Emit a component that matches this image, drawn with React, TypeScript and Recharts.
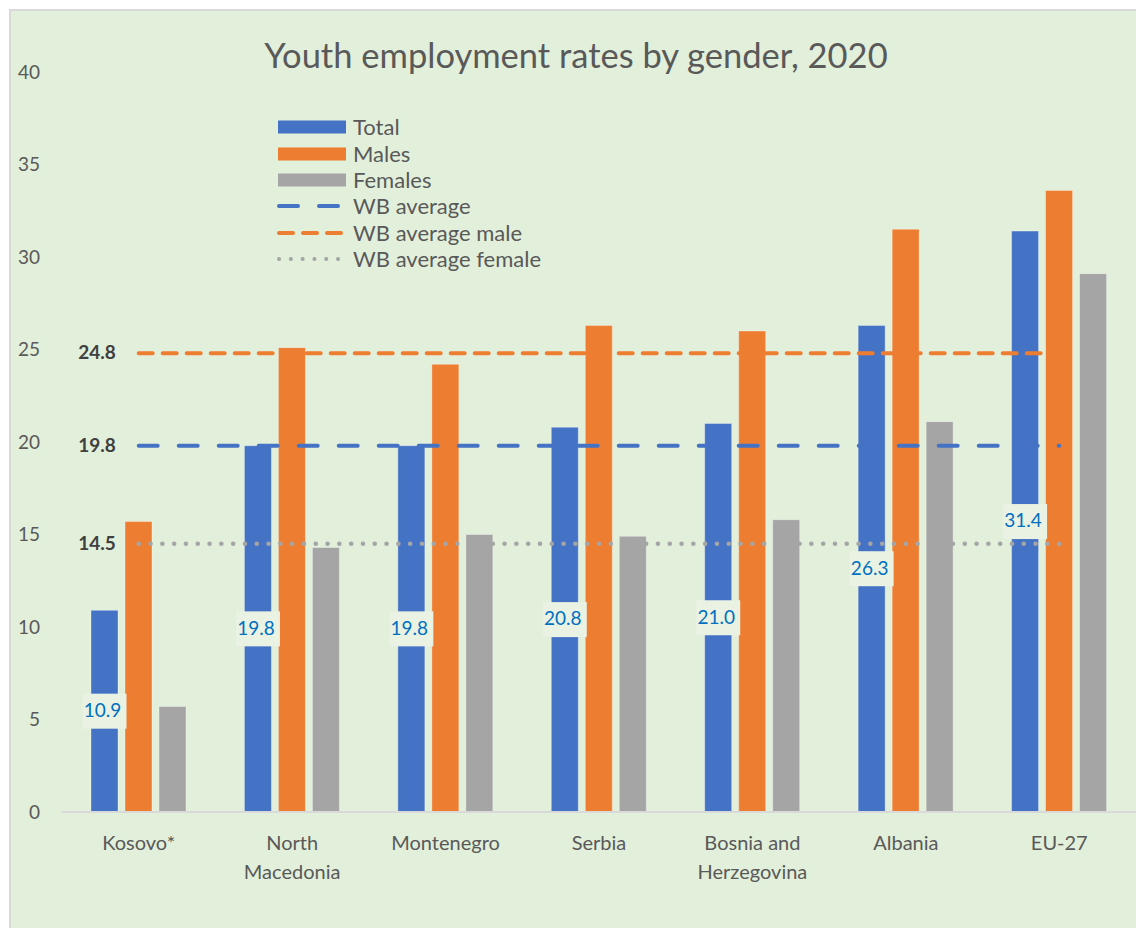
import React from "react";
import { ComposedChart, Bar, Line, XAxis, YAxis, LabelList, Legend } from "recharts";

const CATEGORIES = ["Kosovo*", "North Macedonia", "Montenegro", "Serbia", "Bosnia and Herzegovina", "Albania", "EU-27"];
const TOTAL = [10.9, 19.8, 19.8, 20.8, 21.0, 26.3, 31.4];
const MALES = [15.7, 25.1, 24.2, 26.3, 26.0, 31.5, 33.6];
const FEMALES = [5.7, 14.3, 15.0, 14.9, 15.8, 21.1, 29.1];
const WB_AVERAGE = [19.8, 19.8, 19.8, 19.8, 19.8, 19.8, 19.8];
const WB_AVERAGE_MALE = [24.8, 24.8, 24.8, 24.8, 24.8, 24.8, 24.8];
const WB_AVERAGE_FEMALE = [14.5, 14.5, 14.5, 14.5, 14.5, 14.5, 14.5];
const Y_TICKS = [0, 5, 10, 15, 20, 25, 30, 35, 40];

const FONT = "Lato, 'Open Sans', sans-serif";
const BLUE = "#4472c4";
const ORANGE = "#ed7d31";
const GREY = "#a5a5a5";
const TEXT = "#595959";

const data = CATEGORIES.map((name, i) => ({
  name,
  total: TOTAL[i],
  males: MALES[i],
  females: FEMALES[i],
  wbAvg: WB_AVERAGE[i],
  wbMale: WB_AVERAGE_MALE[i],
  wbFemale: WB_AVERAGE_FEMALE[i],
}));

// greedy word wrap for the category labels
function wrap(text: string, maxChars = 11): string[] {
  const lines: string[] = [];
  let cur = "";
  for (const w of text.split(" ")) {
    const next = cur ? cur + " " + w : w;
    if (next.length > maxChars && cur) {
      lines.push(cur);
      cur = w;
    } else {
      cur = next;
    }
  }
  if (cur) lines.push(cur);
  return lines;
}

const CategoryTick = ({ x, y, payload }: any) => {
  const lines = wrap(String(payload.value));
  return (
    <text x={x} y={y + 30} textAnchor="middle" fill={TEXT} fontSize={20} fontFamily={FONT}>
      {lines.map((l, i) => (
        <tspan key={i} x={x} dy={i === 0 ? 0 : 29}>
          {l}
        </tspan>
      ))}
    </text>
  );
};

const TotalLabel = (props: any) => {
  const { x, y, width, height, value } = props;
  const cx = x + width / 2;
  const cy = y + height / 2;
  return (
    <g>
      <rect x={cx - 22} y={cy - 17.5} width={44} height={35} fill="#e9f2e3" />
      <text x={cx - 2} y={cy + 1} textAnchor="middle" dominantBaseline="middle" fill="#0070c0" fontSize={19} fontFamily={FONT}>
        {Number(value).toFixed(1)}
      </text>
    </g>
  );
};

const AvgLabel = (props: any) => {
  const { x, y, value, index } = props;
  if (index !== 0) return null;
  return (
    <text x={x - 23} y={y + 1} textAnchor="end" dominantBaseline="middle" fill="#404040" fontWeight="bold" fontSize={19} fontFamily={FONT}>
      {Number(value).toFixed(1)}
    </text>
  );
};

const LEGEND_ITEMS = [
  { label: "Total", color: BLUE, kind: "bar" },
  { label: "Males", color: ORANGE, kind: "bar" },
  { label: "Females", color: GREY, kind: "bar" },
  { label: "WB average", color: BLUE, kind: "line", dash: "19 21" },
  { label: "WB average male", color: ORANGE, kind: "line", dash: "14 10" },
  { label: "WB average female", color: GREY, kind: "line", dash: "0.1 11.7" },
];

const LegendContent = () => (
  <div style={{ fontFamily: FONT, fontSize: 22, color: TEXT }}>
    {LEGEND_ITEMS.map((it) => (
      <div key={it.label} style={{ display: "flex", alignItems: "center", height: 26.4 }}>
        <svg width={76} height={14} style={{ flex: "none" }}>
          {it.kind === "bar" ? (
            <rect x={1} y={0.5} width={68} height={13} fill={it.color} />
          ) : (
            <line x1={2} x2={68} y1={7} y2={7} stroke={it.color} strokeWidth={4} strokeLinecap="round" strokeDasharray={it.dash} />
          )}
        </svg>
        <span style={{ lineHeight: 1 }}>{it.label}</span>
      </div>
    ))}
  </div>
);

export default function App() {
  return (
    <div style={{ position: "absolute", left: 0, top: 0, width: 1136, height: 928, background: "#fff", overflow: "hidden" }}>
      <div
        style={{
          position: "absolute",
          left: 9,
          top: 9,
          width: 1127,
          height: 919,
          background: "#e2efda",
          borderLeft: "2px solid #d9d9d9",
          borderTop: "2px solid #d9d9d9",
          boxSizing: "border-box",
        }}
      />
      <div
        style={{
          position: "absolute",
          left: 0,
          top: 35,
          width: 1152,
          textAlign: "center",
          fontFamily: FONT,
          fontSize: 34.5,
          color: TEXT,
          lineHeight: "40px",
        }}
      >
        Youth employment rates by gender, 2020
      </div>
      <div style={{ position: "absolute", left: 0, top: 0 }}>
        <ComposedChart
          width={1136}
          height={928}
          data={data}
          margin={{ top: 72, right: 0, bottom: 56, left: 12 }}
          barGap={7}
          barCategoryGap={29}
        >
          <XAxis
            dataKey="name"
            height={60}
            tickLine={false}
            axisLine={{ stroke: "#d9d9d9", strokeWidth: 2 }}
            tick={<CategoryTick />}
            interval={0}
          />
          <YAxis
            width={50}
            domain={[0, 40]}
            ticks={Y_TICKS}
            axisLine={false}
            tickLine={false}
            tickMargin={16}
            tick={{ fill: TEXT, fontSize: 19, fontFamily: FONT }}
          />
          <Legend
            layout="vertical"
            align="center"
            verticalAlign="middle"
            content={<LegendContent />}
            wrapperStyle={{ position: "absolute", left: 277, top: 114, width: 300 }}
          />
          <Bar dataKey="total" name="Total" fill={BLUE} barSize={27} stroke="#ffffff" strokeOpacity={0.35} isAnimationActive={false}>
            <LabelList dataKey="total" content={<TotalLabel />} />
          </Bar>
          <Bar dataKey="males" name="Males" fill={ORANGE} barSize={27} stroke="#ffffff" strokeOpacity={0.35} isAnimationActive={false} />
          <Bar dataKey="females" name="Females" fill={GREY} barSize={27} stroke="#ffffff" strokeOpacity={0.35} isAnimationActive={false} />
          <Line
            dataKey="wbAvg"
            name="WB average"
            type="linear"
            stroke={BLUE}
            strokeWidth={4}
            strokeLinecap="round"
            strokeDasharray="19 21"
            dot={false}
            activeDot={false}
            isAnimationActive={false}
          >
            <LabelList dataKey="wbAvg" content={<AvgLabel />} />
          </Line>
          <Line
            dataKey="wbMale"
            name="WB average male"
            type="linear"
            stroke={ORANGE}
            strokeWidth={4}
            strokeLinecap="round"
            strokeDasharray="14 10"
            dot={false}
            activeDot={false}
            isAnimationActive={false}
          >
            <LabelList dataKey="wbMale" content={<AvgLabel />} />
          </Line>
          <Line
            dataKey="wbFemale"
            name="WB average female"
            type="linear"
            stroke={GREY}
            strokeWidth={4.5}
            strokeLinecap="round"
            strokeDasharray="0.1 11.7"
            dot={false}
            activeDot={false}
            isAnimationActive={false}
          >
            <LabelList dataKey="wbFemale" content={<AvgLabel />} />
          </Line>
        </ComposedChart>
      </div>
    </div>
  );
}
